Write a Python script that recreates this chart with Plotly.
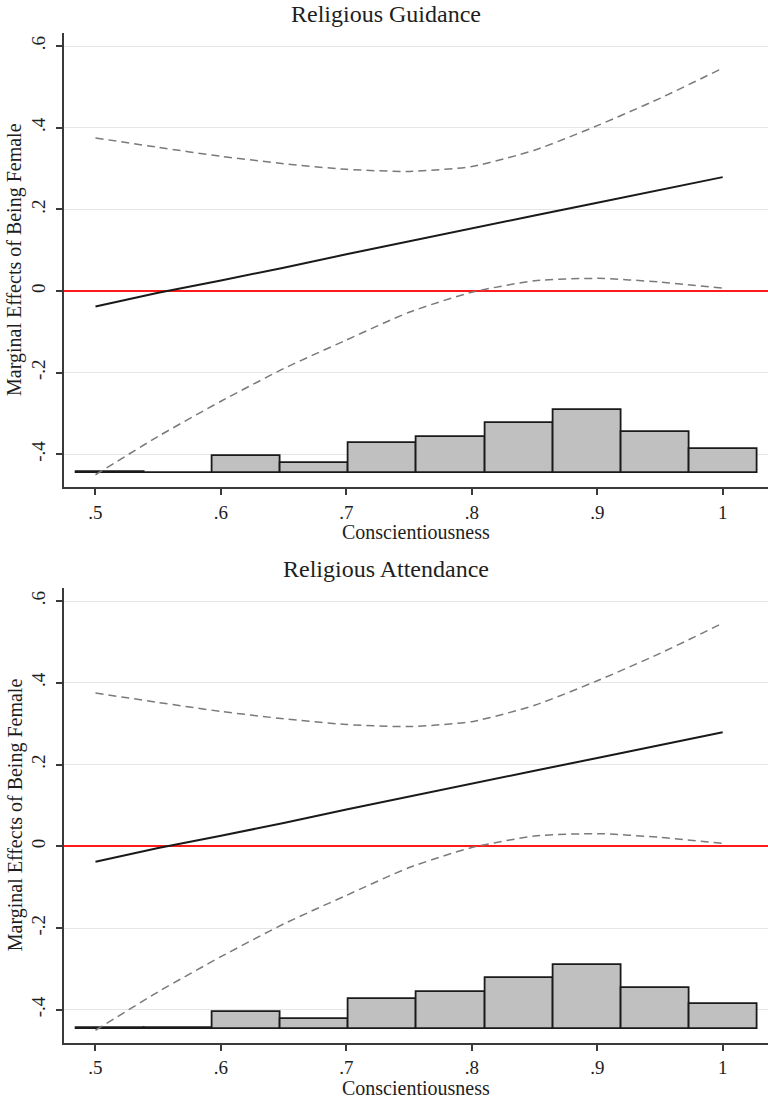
import plotly.graph_objects as go

# ---------------- data ----------------
conscientiousness = [0.50, 0.55, 0.60, 0.65, 0.70, 0.75, 0.80, 0.85, 0.90, 0.95, 1.00]
marginal_effect = [-0.038, -0.004, 0.026, 0.057, 0.090, 0.122, 0.153, 0.185, 0.216, 0.248, 0.279]
ci_upper = [0.375, 0.352, 0.330, 0.312, 0.298, 0.293, 0.305, 0.345, 0.405, 0.472, 0.546]
ci_lower = [-0.450, -0.356, -0.270, -0.190, -0.120, -0.052, -0.003, 0.025, 0.031, 0.022, 0.007]

hist_bin_centers = [0.5117, 0.5660, 0.6203, 0.6747, 0.7290, 0.7834, 0.8377, 0.8920, 0.9464, 1.0007]
hist_heights = [0.002, 0.001, 0.041, 0.024, 0.073, 0.089, 0.123, 0.155, 0.100, 0.059]
hist_base = -0.446

panel_titles = ["Religious Guidance", "Religious Attendance"]
x_title = "Conscientiousness"
y_title = "Marginal Effects of Being Female"

x_tickvals = [0.5, 0.6, 0.7, 0.8, 0.9, 1.0]
x_ticktext = [".5", ".6", ".7", ".8", ".9", "1"]
y_tickvals = [-0.4, -0.2, 0, 0.2, 0.4, 0.6]
y_ticktext = ["-.4", "-.2", "0", ".2", ".4", ".6"]

# ---------------- layout constants ----------------
W, H = 768, 1098
FONT = "Liberation Serif"
TXT = "#1e1e1e"
AXC = "#3a3a3a"
x_range = [0.4745, 1.0361]
y_range = [-0.480, 0.632]
x_domain = [63.5 / W, 1.0]
# panel pixel extents (top, bottom) from top of page
panels_px = [(33, 487), (588, 1042.5)]
title_cx_px = 386

bin_width = hist_bin_centers[1] - hist_bin_centers[0]

fig = go.Figure()

for i, (top, bot) in enumerate(panels_px):
    xa = "x" if i == 0 else f"x{i+1}"
    ya = "y" if i == 0 else f"y{i+1}"
    fig.add_trace(go.Bar(
        x=hist_bin_centers, y=hist_heights, base=hist_base, width=bin_width,
        marker=dict(color="#c0c0c0", line=dict(color="#1a1a1a", width=1.8)),
        xaxis=xa, yaxis=ya, showlegend=False, hoverinfo="skip"))
    fig.add_trace(go.Scatter(
        x=conscientiousness, y=ci_upper, mode="lines",
        line=dict(color="#7a7a7a", width=1.5, dash="8px,5px", shape="spline", smoothing=0.6),
        xaxis=xa, yaxis=ya, showlegend=False))
    fig.add_trace(go.Scatter(
        x=conscientiousness, y=ci_lower, mode="lines",
        line=dict(color="#7a7a7a", width=1.5, dash="8px,5px", shape="spline", smoothing=0.6),
        xaxis=xa, yaxis=ya, showlegend=False))
    fig.add_trace(go.Scatter(
        x=conscientiousness, y=marginal_effect, mode="lines",
        line=dict(color="#1a1a1a", width=2),
        xaxis=xa, yaxis=ya, showlegend=False))

    ydom = [1 - bot / H, 1 - top / H]
    xkey = "xaxis" if i == 0 else f"xaxis{i+1}"
    ykey = "yaxis" if i == 0 else f"yaxis{i+1}"
    fig.update_layout(**{
        xkey: dict(domain=x_domain, range=x_range, anchor=ya,
                   tickvals=x_tickvals, ticktext=x_ticktext,
                   showgrid=False, zeroline=False, showline=True,
                   linecolor=AXC, linewidth=2, ticks="outside", ticklen=6,
                   tickwidth=1.5, tickcolor=AXC, ticklabelstandoff=1,
                   tickfont=dict(family=FONT, size=19, color=TXT), fixedrange=True),
        ykey: dict(domain=ydom, range=y_range, anchor=xa,
                   tickvals=y_tickvals, ticktext=y_ticktext, tickangle=-90,
                   showgrid=True, gridcolor="#e6e6e6", gridwidth=1,
                   zeroline=True, zerolinecolor="#ff1a1a", zerolinewidth=1.6,
                   showline=True, linecolor=AXC, linewidth=2, ticks="outside",
                   ticklen=6, tickwidth=1.5, tickcolor=AXC, ticklabelstandoff=3,
                   tickfont=dict(family=FONT, size=19, color=TXT), fixedrange=True),
    })

    cx = (x_domain[0] + x_domain[1]) / 2
    # panel title
    fig.add_annotation(text=panel_titles[i], xref="paper", yref="paper",
                       x=title_cx_px / W, y=1 - (top - 19) / H, xanchor="center", yanchor="middle",
                       showarrow=False, font=dict(family=FONT, size=24, color=TXT))
    # x title
    fig.add_annotation(text=x_title, xref="paper", yref="paper",
                       x=cx, y=1 - (bot + 45) / H, xanchor="center", yanchor="middle",
                       showarrow=False, font=dict(family=FONT, size=20, color=TXT))
    # y title
    fig.add_annotation(text=y_title, xref="paper", yref="paper",
                       x=15 / W, y=1 - ((top + bot) / 2) / H, xanchor="center", yanchor="middle",
                       textangle=-90, showarrow=False, font=dict(family=FONT, size=20, color=TXT))

fig.update_layout(width=W, height=H, margin=dict(l=0, r=0, t=0, b=0),
                  paper_bgcolor="white", plot_bgcolor="white", bargap=0,
                  showlegend=False)

fig.write_html("out.html", config={"displayModeBar": False},
               post_script="document.body.style.margin='0';document.body.style.overflow='hidden';")
